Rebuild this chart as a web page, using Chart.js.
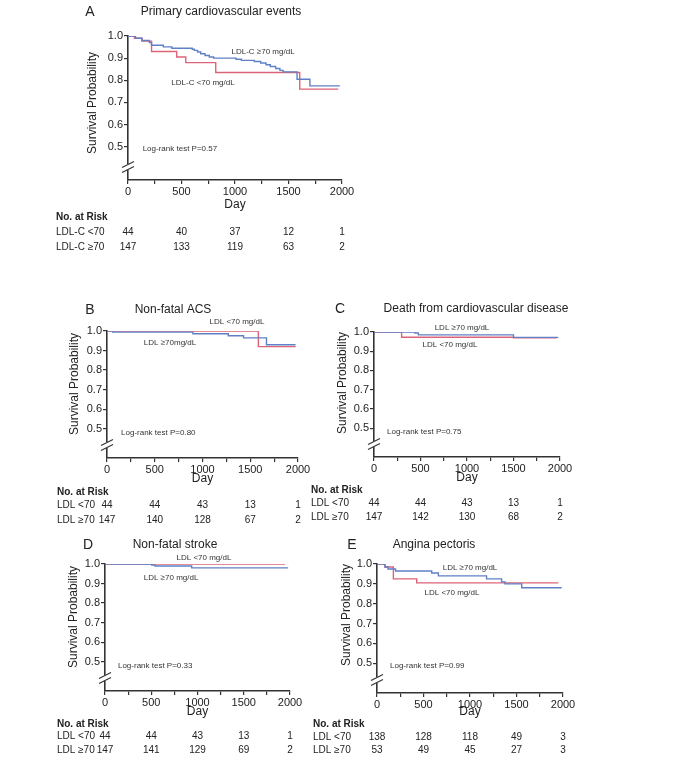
<!DOCTYPE html>
<html>
<head>
<meta charset="utf-8">
<title>Kaplan-Meier panels</title>
<script src="https://cdn.jsdelivr.net/npm/chart.js@4.4.0/dist/chart.umd.min.js"></script>
<style>
  body { margin: 0; background: #fff; }
  #wrap { position: relative; width: 700px; height: 759px; }
  #wrap canvas { position: absolute; left: 0; top: 0; }
</style>
</head>
<body>
<div id="wrap">
  <canvas id="chartA" width="700" height="759"></canvas>
  <canvas id="chartB" width="700" height="759"></canvas>
  <canvas id="chartC" width="700" height="759"></canvas>
  <canvas id="chartD" width="700" height="759"></canvas>
  <canvas id="chartE" width="700" height="759"></canvas>
</div>
<script>
// Axis ticks
const dayTicks = [0, 500, 1000, 1500, 2000];
const dayMinorTicks = [0, 250, 500, 750, 1000, 1250, 1500, 1750, 2000];
const survTicks = [0.5, 0.6, 0.7, 0.8, 0.9, 1.0];

// A - Primary cardiovascular events
const aLowDays = [0, 60, 130, 220, 455, 540, 820, 1605, 1965];
const aLowSurv = [1, 0.99, 0.977, 0.93, 0.905, 0.88, 0.835, 0.76, 0.76];
const aHighDays = [0, 70, 130, 200, 220, 330, 410, 600, 620, 650, 680, 720, 760, 800, 1010, 1060, 1180, 1240, 1290, 1330, 1380, 1420, 1450, 1580, 1700, 1980];
const aHighSurv = [1, 0.99, 0.98, 0.97, 0.958, 0.951, 0.945, 0.94, 0.935, 0.928, 0.92, 0.912, 0.905, 0.9, 0.895, 0.89, 0.885, 0.878, 0.87, 0.862, 0.853, 0.845, 0.838, 0.805, 0.775, 0.775];
const aRiskLow = [44, 40, 37, 12, 1];
const aRiskHigh = [147, 133, 119, 63, 2];

// B - Non-fatal ACS
const bLowDays = [0, 1585, 1975];
const bLowSurv = [1, 0.92, 0.92];
const bHighDays = [0, 60, 900, 1270, 1430, 1670, 1975];
const bHighSurv = [1, 0.994, 0.986, 0.976, 0.965, 0.93, 0.93];
const bRiskLow = [44, 44, 43, 13, 1];
const bRiskHigh = [147, 140, 128, 67, 2];

// C - Death from cardiovascular disease
const cLowDays = [0, 297, 1500, 1965];
const cLowSurv = [1, 0.973, 0.97, 0.97];
const cHighDays = [0, 440, 477, 1500, 1980];
const cHighSurv = [1, 0.995, 0.985, 0.972, 0.972];
const cRiskLow = [44, 44, 43, 13, 1];
const cRiskHigh = [147, 142, 130, 68, 2];

// D - Non-fatal stroke
const dLowDays = [0, 1946];
const dLowSurv = [1, 1];
const dHighDays = [0, 505, 541, 937, 1980];
const dHighSurv = [1, 0.995, 0.99, 0.98, 0.98];
const dRiskLow = [44, 44, 43, 13, 1];
const dRiskHigh = [147, 141, 129, 69, 2];

// E - Angina pectoris
const eLowDays = [0, 86, 176, 427, 1950];
const eLowSurv = [1, 0.985, 0.925, 0.905, 0.905];
const eHighDays = [0, 86, 118, 199, 588, 660, 1178, 1340, 1376, 1556, 1986];
const eHighSurv = [1, 0.985, 0.975, 0.965, 0.955, 0.94, 0.925, 0.91, 0.9, 0.88, 0.88];
const eRiskLow = [138, 128, 118, 49, 3];
const eRiskHigh = [53, 49, 45, 27, 3];

const BLUE = "#5f80c6";
const RED = "#dc6478";
const AXIS = "#333";
const TEXT = "#222";
const FONT = '"Liberation Sans", Arial, sans-serif';
const Y_W = 40;
const X_H = 30;

const panels = [
  {
    id: "chartA", letter: "A", title: "Primary cardiovascular events",
    box: { left: 128, right: 342, top: 36, bottom: 180 },
    letterX: 90, titleX: 221, titleY: 12, yTitleX: 93, yTitleY: 103, dayGap: 25,
    low: [aLowDays, aLowSurv], high: [aHighDays, aHighSurv],
    lowLabel: "LDL-C <70 mg/dL", lowLabelAt: [701, 0.788],
    highLabel: "LDL-C ≥70 mg/dL", highLabelAt: [1262, 0.928],
    logRank: "Log-rank test P=0.57", logRankAt: [137, 0.49],
    rows: ["LDL-C <70", "LDL-C ≥70"], riskLow: aRiskLow, riskHigh: aRiskHigh,
    riskX: 56, riskY: [217, 232, 247],
  },
  {
    id: "chartB", letter: "B", title: "Non-fatal ACS",
    box: { left: 107, right: 298, top: 331, bottom: 458 },
    letterX: 90, titleX: 173, titleY: 310, yTitleX: 75, yTitleY: 384, dayGap: 21,
    low: [bLowDays, bLowSurv], high: [bHighDays, bHighSurv],
    lowLabel: "LDL <70 mg/dL", lowLabelAt: [1361, 1.046],
    highLabel: "LDL ≥70mg/dL", highLabelAt: [660, 0.938],
    logRank: "Log-rank test P=0.80", logRankAt: [147, 0.479],
    rows: ["LDL <70", "LDL ≥70"], riskLow: bRiskLow, riskHigh: bRiskHigh,
    riskX: 57, riskY: [492, 505, 520],
  },
  {
    id: "chartC", letter: "C", title: "Death from cardiovascular disease",
    box: { left: 374, right: 560, top: 332, bottom: 457 },
    letterX: 340, titleX: 476, titleY: 309, yTitleX: 343, yTitleY: 383, dayGap: 21,
    low: [cLowDays, cLowSurv], high: [cHighDays, cHighSurv],
    lowLabel: "LDL <70 mg/dL", lowLabelAt: [817, 0.932],
    highLabel: "LDL ≥70 mg/dL", highLabelAt: [946, 1.02],
    logRank: "Log-rank test P=0.75", logRankAt: [140, 0.479],
    rows: ["LDL <70", "LDL ≥70"], riskLow: cRiskLow, riskHigh: cRiskHigh,
    riskX: 311, riskY: [490, 503, 517],
  },
  {
    id: "chartD", letter: "D", title: "Non-fatal stroke",
    box: { left: 105, right: 290, top: 564, bottom: 691 },
    letterX: 88, titleX: 175, titleY: 545, yTitleX: 74, yTitleY: 617, dayGap: 21,
    low: [dLowDays, dLowSurv], high: [dHighDays, dHighSurv],
    lowLabel: "LDL <70 mg/dL", lowLabelAt: [1070, 1.031],
    highLabel: "LDL ≥70 mg/dL", highLabelAt: [714, 0.928],
    logRank: "Log-rank test P=0.33", logRankAt: [140, 0.479],
    rows: ["LDL <70", "LDL ≥70"], riskLow: dRiskLow, riskHigh: dRiskHigh,
    riskX: 57, riskY: [724, 736, 750],
  },
  {
    id: "chartE", letter: "E", title: "Angina pectoris",
    box: { left: 377, right: 563, top: 564, bottom: 693 },
    letterX: 352, titleX: 434, titleY: 545, yTitleX: 347, yTitleY: 615, dayGap: 19,
    low: [eLowDays, eLowSurv], high: [eHighDays, eHighSurv],
    lowLabel: "LDL <70 mg/dL", lowLabelAt: [806, 0.854],
    highLabel: "LDL ≥70 mg/dL", highLabelAt: [1000, 0.98],
    logRank: "Log-rank test P=0.99", logRankAt: [140, 0.485],
    rows: ["LDL <70", "LDL ≥70"], riskLow: eRiskLow, riskHigh: eRiskHigh,
    riskX: 313, riskY: [724, 737, 750],
  },
];

function toPoints(days, surv) {
  return days.map((d, i) => ({ x: d, y: surv[i] }));
}

// Titles, labels, axis break and the risk table
function drawPanelText(chart, p) {
  const ctx = chart.ctx;
  const xs = chart.scales.x;
  const ys = chart.scales.y;
  const area = chart.chartArea;
  ctx.save();

  // axis break on the y axis
  const bx = area.left;
  const by = area.bottom - 13;
  ctx.fillStyle = "#fff";
  ctx.fillRect(bx - 3, by - 3, 6, 6);
  ctx.strokeStyle = AXIS;
  ctx.lineWidth = 1.2;
  [-2.5, 2.5].forEach((dy) => {
    ctx.beginPath();
    ctx.moveTo(bx - 6, by + dy + 3);
    ctx.lineTo(bx + 6, by + dy - 3);
    ctx.stroke();
  });

  ctx.fillStyle = TEXT;
  ctx.textBaseline = "middle";
  ctx.textAlign = "center";
  ctx.font = "14px " + FONT;
  ctx.fillText(p.letter, p.letterX, p.titleY);
  ctx.font = "12px " + FONT;
  ctx.fillText(p.title, p.titleX, p.titleY);
  ctx.fillText("Day", (area.left + area.right) / 2, area.bottom + p.dayGap);

  ctx.save();
  ctx.translate(p.yTitleX, p.yTitleY);
  ctx.rotate(-Math.PI / 2);
  ctx.fillText("Survival Probability", 0, 0);
  ctx.restore();

  // curve labels
  ctx.font = "8px " + FONT;
  ctx.fillStyle = "#333";
  ctx.fillText(p.highLabel, xs.getPixelForValue(p.highLabelAt[0]), ys.getPixelForValue(p.highLabelAt[1]));
  ctx.fillText(p.lowLabel, xs.getPixelForValue(p.lowLabelAt[0]), ys.getPixelForValue(p.lowLabelAt[1]));
  ctx.textAlign = "left";
  ctx.fillText(p.logRank, xs.getPixelForValue(p.logRankAt[0]), ys.getPixelForValue(p.logRankAt[1]));

  // number at risk
  ctx.fillStyle = TEXT;
  ctx.font = "bold 10px " + FONT;
  ctx.fillText("No. at Risk", p.riskX, p.riskY[0]);
  ctx.font = "10px " + FONT;
  ctx.fillText(p.rows[0], p.riskX, p.riskY[1]);
  ctx.fillText(p.rows[1], p.riskX, p.riskY[2]);
  ctx.textAlign = "center";
  dayTicks.forEach((d, i) => {
    const x = xs.getPixelForValue(d);
    ctx.fillText(String(p.riskLow[i]), x, p.riskY[1]);
    ctx.fillText(String(p.riskHigh[i]), x, p.riskY[2]);
  });
  ctx.restore();
}

function makePanel(p) {
  const canvas = document.getElementById(p.id);
  return new Chart(canvas, {
    type: "line",
    data: {
      datasets: [
        {
          data: toPoints(p.high[0], p.high[1]),
          borderColor: BLUE,
          borderWidth: 1.4,
          stepped: "before",
          pointRadius: 0,
          fill: false,
        },
        {
          data: toPoints(p.low[0], p.low[1]),
          borderColor: RED,
          borderWidth: 1.4,
          stepped: "before",
          pointRadius: 0,
          fill: false,
        },
      ],
    },
    options: {
      responsive: false,
      animation: false,
      events: [],
      layout: {
        padding: {
          left: p.box.left - Y_W,
          top: p.box.top,
          right: 700 - p.box.right,
          bottom: 759 - p.box.bottom - X_H,
        },
      },
      plugins: {
        legend: { display: false },
        tooltip: { enabled: false },
      },
      scales: {
        x: {
          type: "linear",
          min: 0,
          max: 2000,
          afterBuildTicks: (scale) => {
            scale.ticks = dayMinorTicks.map((v) => ({ value: v }));
          },
          afterFit: (scale) => {
            scale.height = X_H;
          },
          ticks: {
            autoSkip: false,
            maxRotation: 0,
            padding: 1,
            color: TEXT,
            font: { family: FONT, size: 11 },
            callback: (v) => (dayTicks.includes(v) ? String(v) : ""),
          },
          grid: { drawOnChartArea: false, drawTicks: true, tickLength: 4, color: AXIS, lineWidth: 1.2 },
          border: { color: AXIS, width: 1.6 },
        },
        y: {
          type: "linear",
          min: 0.35,
          max: 1.0,
          afterBuildTicks: (scale) => {
            scale.ticks = survTicks.map((v) => ({ value: v }));
          },
          afterFit: (scale) => {
            scale.width = Y_W;
          },
          ticks: {
            padding: 1,
            color: TEXT,
            font: { family: FONT, size: 11 },
            callback: (v) => Number(v).toFixed(1),
          },
          grid: { drawOnChartArea: false, drawTicks: true, tickLength: 4, color: AXIS, lineWidth: 1.2 },
          border: { color: AXIS, width: 1.6 },
        },
      },
    },
    plugins: [
      {
        id: "panelText",
        afterDraw(chart) {
          drawPanelText(chart, p);
        },
      },
    ],
  });
}

window.onload = function () {
  panels.forEach(makePanel);
};
</script>
</body>
</html>
